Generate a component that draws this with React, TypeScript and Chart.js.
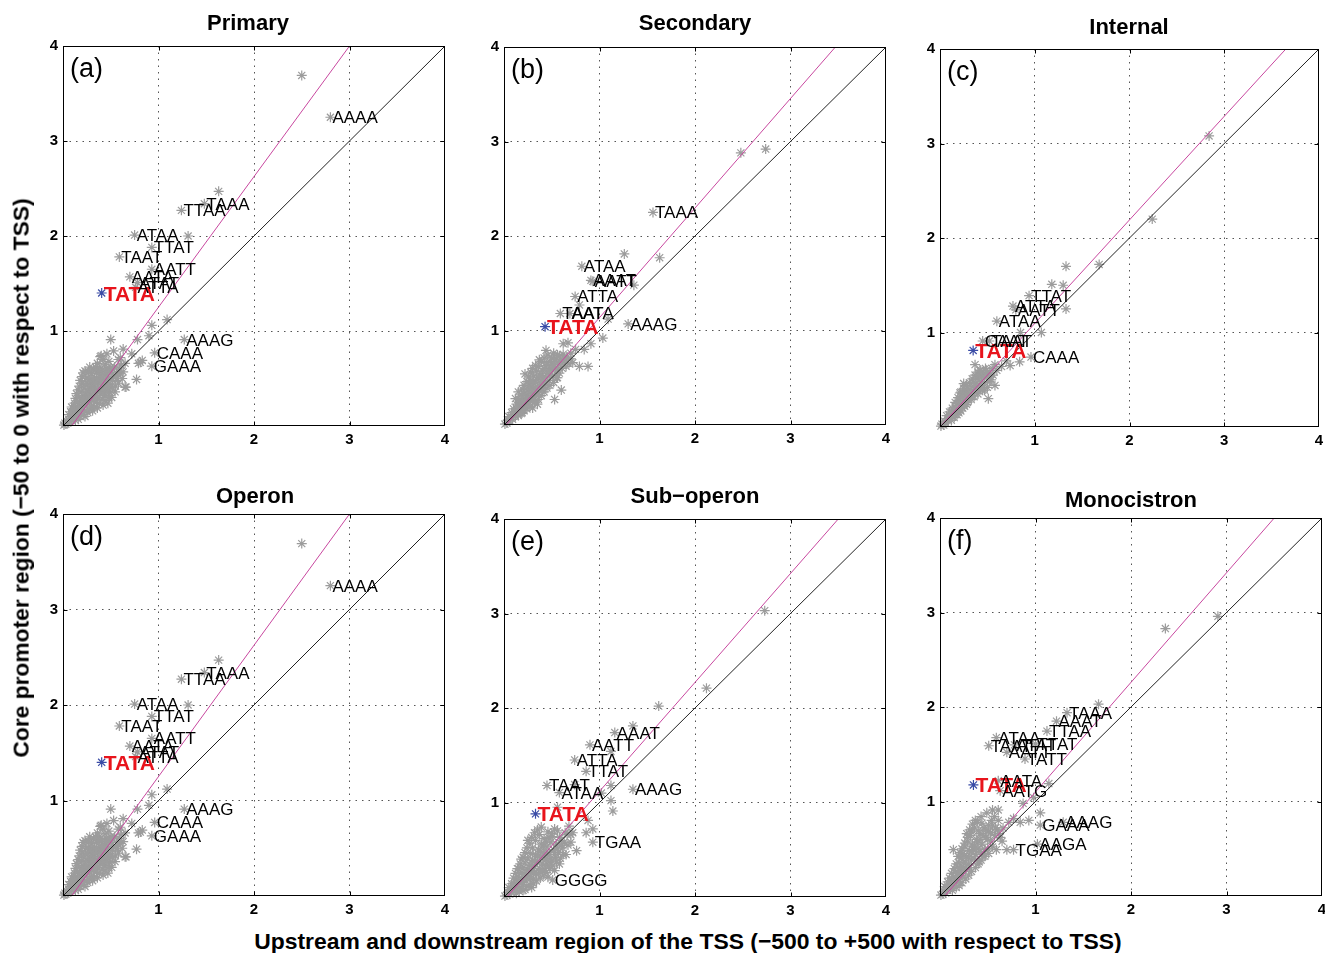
import React, { useEffect, useRef } from "react";
import { Chart, registerables } from "chart.js";
Chart.register(...registerables);

type P = [number, number];
type L = [number, number, string];

const FONT = '"Liberation Sans", Arial, Helvetica, sans-serif';

const tickValues = [0, 1, 2, 3, 4];
const tickLabels = ["", "1", "2", "3", "4"];
const diagonal: P[] = [[0, 0], [4, 4]];

// ---------- (a) Primary ----------
const primaryFit: P[] = [[0.09, 0], [3.0, 4]];
const primaryTata: P[] = [[0.405, 1.4]];
const primaryLabeled: L[] = [
  [2.5, 3.69, ""], [2.8, 3.25, "AAAA"], [1.63, 2.47, ""], [1.48, 2.34, "TAAA"],
  [1.24, 2.27, "TTAA"], [1.31, 2.0, ""], [0.75, 2.01, "ATAA"], [0.93, 1.88, "TTAT"],
  [0.59, 1.78, "TAAT"], [0.93, 1.65, "AATT"], [0.7, 1.57, "AATA"], [0.78, 1.51, "ATAT"],
  [0.76, 1.46, "ATTA"], [1.09, 1.12, ""], [0.93, 1.06, ""], [1.27, 0.91, "AAAG"],
  [0.96, 0.77, "CAAA"], [0.93, 0.63, "GAAA"],
];
const primaryCluster: P[] = [
  [0.01, 0.01], [0.02, 0.03], [0.03, 0.02], [0.04, 0.05], [0.05, 0.03], [0.06, 0.07], [0.07, 0.05],
  [0.08, 0.1], [0.09, 0.06], [0.1, 0.12], [0.11, 0.08], [0.12, 0.15], [0.12, 0.1], [0.13, 0.2],
  [0.14, 0.13], [0.15, 0.25], [0.15, 0.17], [0.16, 0.11], [0.17, 0.3], [0.17, 0.21], [0.18, 0.15],
  [0.19, 0.36], [0.19, 0.26], [0.2, 0.19], [0.2, 0.45], [0.21, 0.32], [0.22, 0.23], [0.22, 0.4],
  [0.23, 0.16], [0.24, 0.5], [0.24, 0.29], [0.25, 0.37], [0.25, 0.22], [0.26, 0.44], [0.27, 0.57],
  [0.27, 0.31], [0.28, 0.26], [0.28, 0.49], [0.29, 0.39], [0.3, 0.2], [0.3, 0.55], [0.31, 0.33],
  [0.31, 0.45], [0.32, 0.27], [0.32, 0.6], [0.33, 0.41], [0.33, 0.51], [0.34, 0.35], [0.35, 0.25],
  [0.35, 0.56], [0.36, 0.46], [0.36, 0.3], [0.37, 0.39], [0.38, 0.52], [0.38, 0.62], [0.39, 0.34],
  [0.4, 0.44], [0.4, 0.57], [0.41, 0.28], [0.41, 0.59], [0.42, 0.49], [0.43, 0.38], [0.44, 0.54],
  [0.44, 0.32], [0.45, 0.45], [0.46, 0.6], [0.47, 0.4], [0.47, 0.24], [0.48, 0.5], [0.49, 0.35],
  [0.5, 0.56], [0.5, 0.44], [0.52, 0.48], [0.53, 0.52], [0.54, 0.62], [0.545, 0.36], [0.55, 0.42],
  [0.57, 0.5], [0.58, 0.45], [0.6, 0.55], [0.63, 0.57], [0.65, 0.66], [0.66, 0.41], [0.27, 0.57],
  [0.39, 0.73], [0.53, 0.79], [0.63, 0.81], [0.5, 0.91], [0.4, 0.74], [0.72, 0.76], [0.78, 0.91],
  [0.9, 0.95], [0.81, 0.67], [0.83, 0.69], [0.79, 0.66], [0.77, 0.49], [0.65, 0.41], [0.54, 0.62],
  [0.06, 0.12], [0.08, 0.15], [0.09, 0.2], [0.11, 0.18], [0.12, 0.24], [0.13, 0.29], [0.14, 0.34],
  [0.16, 0.38], [0.17, 0.42], [0.18, 0.48], [0.2, 0.52], [0.21, 0.56], [0.23, 0.58], [0.13, 0.06],
  [0.16, 0.07], [0.18, 0.1], [0.21, 0.12], [0.23, 0.1], [0.26, 0.14], [0.28, 0.17], [0.31, 0.16],
  [0.33, 0.2], [0.36, 0.19], [0.38, 0.24], [0.42, 0.22], [0.44, 0.27], [0.48, 0.3], [0.51, 0.3],
  [0.23, 0.44], [0.26, 0.5], [0.29, 0.47], [0.3, 0.42], [0.32, 0.48], [0.34, 0.45], [0.35, 0.5],
  [0.37, 0.58], [0.39, 0.48], [0.41, 0.52], [0.43, 0.46], [0.45, 0.57], [0.46, 0.52], [0.48, 0.58],
  [0.5, 0.62], [0.52, 0.6], [0.56, 0.56], [0.59, 0.6], [0.61, 0.64], [0.62, 0.5], [0.27, 0.36],
  [0.29, 0.3], [0.31, 0.38], [0.33, 0.28], [0.35, 0.32], [0.38, 0.36], [0.4, 0.39], [0.42, 0.35],
  [0.44, 0.42], [0.46, 0.36], [0.49, 0.42], [0.52, 0.4], [0.55, 0.52], [0.24, 0.33], [0.2, 0.27],
  [0.18, 0.2], [0.16, 0.19], [0.22, 0.29], [0.26, 0.26], [0.34, 0.62], [0.28, 0.62], [0.44, 0.65],
  [0.48, 0.68], [0.36, 0.66], [0.42, 0.7], [0.46, 0.76], [0.58, 0.7], [0.6, 0.72],
];

// ---------- (b) Secondary ----------
const secondaryFit: P[] = [[0.02, 0], [3.47, 4]];
const secondaryTata: P[] = [[0.43, 1.04]];
const secondaryLabeled: L[] = [
  [2.48, 2.88, ""], [2.74, 2.92, ""], [1.56, 2.25, "TAAA"], [1.26, 1.81, ""], [1.63, 1.77, ""],
  [0.815, 1.68, "ATAA"], [0.91, 1.53, "AAAT"], [0.93, 1.52, "AATT"], [1.36, 1.48, ""],
  [0.745, 1.36, "ATTA"], [0.79, 1.27, ""], [0.59, 1.18, "TAAT"], [0.69, 1.18, "AATA"],
  [1.09, 1.12, ""], [1.3, 1.07, "AAAG"], [1.035, 0.92, ""],
];
const secondaryCluster: P[] = [
  [0.01, 0.01], [0.03, 0.02], [0.04, 0.05], [0.06, 0.04], [0.07, 0.08], [0.09, 0.06], [0.1, 0.11],
  [0.11, 0.14], [0.12, 0.09], [0.13, 0.17], [0.14, 0.12], [0.15, 0.2], [0.16, 0.15], [0.17, 0.24],
  [0.18, 0.18], [0.19, 0.13], [0.2, 0.28], [0.2, 0.22], [0.21, 0.33], [0.22, 0.19], [0.23, 0.27],
  [0.23, 0.38], [0.24, 0.31], [0.25, 0.22], [0.26, 0.42], [0.26, 0.35], [0.27, 0.28], [0.28, 0.47],
  [0.29, 0.33], [0.29, 0.4], [0.3, 0.25], [0.31, 0.52], [0.31, 0.44], [0.32, 0.36], [0.33, 0.3],
  [0.34, 0.48], [0.34, 0.57], [0.35, 0.4], [0.36, 0.62], [0.36, 0.34], [0.37, 0.52], [0.38, 0.45],
  [0.39, 0.67], [0.4, 0.38], [0.4, 0.58], [0.41, 0.5], [0.42, 0.71], [0.43, 0.43], [0.44, 0.63],
  [0.45, 0.55], [0.46, 0.74], [0.47, 0.47], [0.48, 0.67], [0.49, 0.6], [0.5, 0.71], [0.51, 0.52],
  [0.52, 0.76], [0.53, 0.64], [0.55, 0.7], [0.56, 0.58], [0.58, 0.73], [0.6, 0.66], [0.62, 0.75],
  [0.64, 0.69], [0.66, 0.72], [0.68, 0.65], [0.7, 0.7], [0.22, 0.54], [0.37, 0.69], [0.44, 0.79],
  [0.15, 0.35], [0.12, 0.28], [0.3, 0.18], [0.35, 0.22], [0.62, 0.86], [0.67, 0.87], [0.91, 0.86],
  [0.88, 0.62], [0.79, 0.62], [0.6, 0.37], [0.53, 0.27], [0.84, 0.8], [0.75, 0.8], [0.56, 0.5],
  [0.05, 0.09], [0.08, 0.13], [0.1, 0.17], [0.13, 0.22], [0.16, 0.27], [0.18, 0.32], [0.19, 0.38],
  [0.21, 0.42], [0.24, 0.46], [0.26, 0.51], [0.28, 0.56], [0.3, 0.6], [0.33, 0.63], [0.15, 0.1],
  [0.18, 0.12], [0.21, 0.15], [0.24, 0.17], [0.27, 0.2], [0.32, 0.24], [0.36, 0.27], [0.39, 0.31],
  [0.42, 0.35], [0.45, 0.39], [0.48, 0.42], [0.52, 0.45], [0.55, 0.5], [0.58, 0.55], [0.61, 0.6],
  [0.27, 0.38], [0.3, 0.45], [0.33, 0.4], [0.36, 0.5], [0.39, 0.54], [0.42, 0.6], [0.45, 0.66],
  [0.47, 0.58], [0.5, 0.64], [0.53, 0.69], [0.56, 0.74], [0.59, 0.67], [0.63, 0.71], [0.4, 0.46],
  [0.44, 0.5], [0.48, 0.53], [0.51, 0.58], [0.54, 0.61], [0.57, 0.64], [0.25, 0.29], [0.22, 0.25],
  [0.38, 0.39], [0.41, 0.42], [0.34, 0.35], [0.31, 0.3], [0.65, 0.62], [0.72, 0.66], [0.7, 0.76],
];

// ---------- (c) Internal ----------
const internalFit: P[] = [[0, 0], [3.65, 4]];
const internalTata: P[] = [[0.35, 0.81]];
const internalLabeled: L[] = [
  [2.84, 3.08, ""], [2.24, 2.2, ""], [1.68, 1.72, ""], [1.33, 1.7, ""], [1.18, 1.51, ""],
  [1.3, 1.5, ""], [0.94, 1.39, "TTAT"], [1.33, 1.25, ""], [0.77, 1.28, "ATTA"], [0.8, 1.24, "AATT"],
  [0.6, 1.12, "ATAA"], [1.07, 1.0, ""], [0.85, 1.0, ""], [0.45, 0.91, "CAAT"], [0.52, 0.91, "TAAT"],
  [0.96, 0.74, "CAAA"],
];
const internalCluster: P[] = [
  [0.01, 0.01], [0.02, 0.03], [0.04, 0.02], [0.05, 0.06], [0.06, 0.04], [0.08, 0.09], [0.09, 0.07],
  [0.1, 0.12], [0.11, 0.1], [0.12, 0.15], [0.13, 0.11], [0.14, 0.18], [0.15, 0.14], [0.16, 0.21],
  [0.17, 0.16], [0.18, 0.25], [0.19, 0.19], [0.2, 0.28], [0.2, 0.15], [0.21, 0.23], [0.22, 0.32],
  [0.23, 0.26], [0.24, 0.36], [0.24, 0.2], [0.25, 0.3], [0.26, 0.4], [0.27, 0.33], [0.28, 0.24],
  [0.28, 0.44], [0.29, 0.37], [0.3, 0.29], [0.31, 0.47], [0.32, 0.4], [0.33, 0.33], [0.34, 0.51],
  [0.35, 0.43], [0.36, 0.37], [0.37, 0.55], [0.37, 0.66], [0.38, 0.46], [0.39, 0.4], [0.4, 0.58],
  [0.41, 0.5], [0.42, 0.44], [0.43, 0.6], [0.44, 0.53], [0.45, 0.39], [0.46, 0.56], [0.47, 0.47],
  [0.48, 0.62], [0.5, 0.55], [0.5, 0.42], [0.52, 0.58], [0.54, 0.5], [0.55, 0.62], [0.6, 0.6],
  [0.58, 0.66], [0.65, 0.64], [0.74, 0.65], [0.84, 0.69], [0.47, 0.39], [0.51, 0.3], [0.58, 0.44],
  [0.42, 0.6], [0.53, 0.53], [0.25, 0.46], [0.21, 0.36], [0.7, 0.7],
  [0.07, 0.12], [0.1, 0.16], [0.13, 0.2], [0.16, 0.26], [0.19, 0.31], [0.22, 0.37], [0.25, 0.41],
  [0.12, 0.07], [0.15, 0.1], [0.18, 0.13], [0.22, 0.17], [0.26, 0.22], [0.29, 0.26], [0.33, 0.29],
  [0.36, 0.32], [0.4, 0.35], [0.43, 0.4], [0.27, 0.3], [0.3, 0.35], [0.33, 0.38], [0.35, 0.47],
  [0.38, 0.52], [0.41, 0.55], [0.44, 0.48], [0.47, 0.52], [0.49, 0.6], [0.52, 0.48], [0.56, 0.55],
];

// ---------- (d) Operon ----------
const operonFit: P[] = [[0.09, 0], [3.0, 4]];
const operonTata: P[] = [[0.405, 1.4]];
const operonLabeled: L[] = primaryLabeled;
const operonCluster: P[] = primaryCluster;

// ---------- (e) Sub-operon ----------
const subOperonFit: P[] = [[0.03, 0], [3.5, 4]];
const subOperonTata: P[] = [[0.33, 0.88]];
const subOperonLabeled: L[] = [
  [2.73, 3.03, ""], [2.12, 2.21, ""], [1.62, 2.02, ""], [1.35, 1.81, ""], [1.16, 1.74, "AAAT"],
  [0.9, 1.61, "AATT"], [1.12, 1.54, ""], [0.74, 1.45, "ATTA"], [0.86, 1.33, "TTAT"],
  [0.45, 1.18, "TAAT"], [0.74, 1.19, ""], [0.58, 1.105, "ATAA"], [1.12, 1.18, ""],
  [1.35, 1.14, "AAAG"], [1.02, 1.1, ""], [1.12, 1.02, ""], [1.14, 0.91, ""],
  [0.93, 0.58, "TGAA"], [0.51, 0.18, "GGGG"],
];
const subOperonCluster: P[] = [
  [0.01, 0.01], [0.03, 0.02], [0.04, 0.05], [0.06, 0.03], [0.07, 0.08], [0.08, 0.05], [0.1, 0.1],
  [0.11, 0.14], [0.12, 0.07], [0.13, 0.18], [0.14, 0.11], [0.15, 0.22], [0.16, 0.15], [0.17, 0.09],
  [0.18, 0.26], [0.19, 0.19], [0.2, 0.31], [0.2, 0.13], [0.21, 0.24], [0.22, 0.36], [0.23, 0.17],
  [0.24, 0.29], [0.25, 0.41], [0.25, 0.6], [0.26, 0.22], [0.27, 0.34], [0.28, 0.46], [0.29, 0.27],
  [0.3, 0.39], [0.3, 0.52], [0.31, 0.19], [0.32, 0.32], [0.33, 0.45], [0.33, 0.6], [0.34, 0.25],
  [0.35, 0.37], [0.36, 0.5], [0.37, 0.66], [0.37, 0.3], [0.38, 0.42], [0.39, 0.74], [0.39, 0.56],
  [0.4, 0.35], [0.41, 0.47], [0.42, 0.62], [0.43, 0.28], [0.44, 0.4], [0.45, 0.53], [0.46, 0.21],
  [0.46, 0.69], [0.47, 0.33], [0.48, 0.45], [0.49, 0.58], [0.5, 0.38], [0.51, 0.64], [0.52, 0.5],
  [0.53, 0.28], [0.54, 0.42], [0.55, 0.56], [0.56, 0.7], [0.57, 0.47], [0.58, 0.35], [0.6, 0.6],
  [0.61, 0.52], [0.63, 0.58], [0.65, 0.45], [0.66, 0.66], [0.7, 0.66], [0.72, 0.68], [0.76, 0.49],
  [0.68, 0.75], [0.56, 0.95], [0.86, 0.68], [0.88, 0.81], [0.93, 0.72], [0.18, 0.4], [0.14, 0.3],
  [0.29, 0.1], [0.22, 0.08],
  [0.05, 0.1], [0.08, 0.14], [0.1, 0.2], [0.12, 0.25], [0.15, 0.3], [0.17, 0.35], [0.2, 0.42],
  [0.22, 0.47], [0.24, 0.52], [0.27, 0.57], [0.29, 0.63], [0.32, 0.68], [0.35, 0.71], [0.13, 0.04],
  [0.16, 0.06], [0.2, 0.07], [0.24, 0.11], [0.27, 0.13], [0.31, 0.14], [0.34, 0.17], [0.38, 0.2],
  [0.41, 0.23], [0.44, 0.26], [0.48, 0.3], [0.51, 0.33], [0.55, 0.37], [0.59, 0.41], [0.62, 0.45],
  [0.26, 0.28], [0.29, 0.33], [0.32, 0.38], [0.35, 0.43], [0.38, 0.48], [0.41, 0.53], [0.44, 0.58],
  [0.47, 0.63], [0.5, 0.67], [0.53, 0.72], [0.58, 0.63], [0.64, 0.68], [0.67, 0.55], [0.7, 0.58],
  [0.36, 0.25], [0.4, 0.28], [0.43, 0.33], [0.46, 0.38], [0.49, 0.41], [0.53, 0.45], [0.56, 0.51],
  [0.6, 0.55], [0.23, 0.22], [0.28, 0.2], [0.31, 0.25], [0.19, 0.16], [0.42, 0.44], [0.45, 0.47],
];

// ---------- (f) Monocistron ----------
const monoFit: P[] = [[0.05, 0], [3.5, 4]];
const monoTata: P[] = [[0.35, 1.175]];
const monoLabeled: L[] = [
  [2.36, 2.83, ""], [2.91, 2.96, ""], [1.66, 2.03, ""], [1.33, 1.94, "TAAA"], [1.22, 1.85, "AAAT"],
  [1.12, 1.745, "TTAA"], [0.59, 1.675, "ATAA"], [0.51, 1.59, "TAAT"], [0.78, 1.6, "ATAT"],
  [1.0, 1.61, "TTAT"], [0.7, 1.52, "AATT"], [0.89, 1.45, "TATT"], [0.61, 1.22, "AATA"],
  [0.63, 1.115, "AATG"], [1.14, 1.19, ""], [0.98, 1.04, ""], [0.87, 0.98, ""], [1.05, 0.88, ""],
  [1.05, 0.75, "GAAA"], [1.29, 0.78, "AAAG"], [1.02, 0.55, "AAGA"], [0.77, 0.49, "TGAA"],
];
const monoCluster: P[] = [
  [0.01, 0.01], [0.03, 0.02], [0.04, 0.05], [0.06, 0.03], [0.07, 0.09], [0.08, 0.06], [0.1, 0.12],
  [0.11, 0.08], [0.12, 0.16], [0.13, 0.11], [0.14, 0.2], [0.14, 0.49], [0.15, 0.14], [0.16, 0.25],
  [0.17, 0.18], [0.18, 0.3], [0.19, 0.22], [0.2, 0.35], [0.2, 0.15], [0.21, 0.27], [0.22, 0.4],
  [0.23, 0.31], [0.24, 0.45], [0.24, 0.2], [0.25, 0.36], [0.26, 0.52], [0.27, 0.28], [0.28, 0.42],
  [0.29, 0.58], [0.3, 0.33], [0.31, 0.48], [0.32, 0.64], [0.33, 0.68], [0.33, 0.38], [0.34, 0.54],
  [0.35, 0.49], [0.36, 0.72], [0.37, 0.44], [0.38, 0.6], [0.39, 0.78], [0.4, 0.5], [0.41, 0.36],
  [0.42, 0.66], [0.43, 0.84], [0.44, 0.55], [0.45, 0.42], [0.46, 0.72], [0.47, 0.49], [0.48, 0.62],
  [0.49, 0.88], [0.5, 0.5], [0.51, 0.68], [0.53, 0.58], [0.55, 0.91], [0.55, 0.75], [0.57, 0.64],
  [0.59, 0.49], [0.6, 0.7], [0.61, 0.8], [0.61, 0.91], [0.63, 0.62], [0.66, 0.72], [0.7, 0.49],
  [0.72, 0.78], [0.84, 0.78], [0.93, 0.8], [0.77, 0.82], [0.24, 0.45], [0.35, 0.49], [0.47, 0.49],
  [0.29, 0.62], [0.19, 0.42],
  [0.05, 0.1], [0.08, 0.15], [0.1, 0.19], [0.12, 0.24], [0.15, 0.29], [0.17, 0.34], [0.21, 0.46],
  [0.23, 0.5], [0.26, 0.56], [0.28, 0.66], [0.31, 0.7], [0.34, 0.76], [0.37, 0.8], [0.13, 0.06],
  [0.17, 0.09], [0.2, 0.11], [0.23, 0.14], [0.27, 0.18], [0.3, 0.22], [0.33, 0.26], [0.37, 0.3],
  [0.4, 0.34], [0.43, 0.38], [0.47, 0.42], [0.51, 0.45], [0.55, 0.52], [0.27, 0.36], [0.3, 0.41],
  [0.33, 0.47], [0.36, 0.53], [0.39, 0.57], [0.42, 0.6], [0.45, 0.64], [0.48, 0.7], [0.51, 0.75],
  [0.54, 0.8], [0.57, 0.84], [0.4, 0.69], [0.44, 0.77], [0.5, 0.6], [0.53, 0.67], [0.58, 0.72],
  [0.62, 0.66], [0.22, 0.24], [0.25, 0.29], [0.31, 0.3], [0.36, 0.4], [0.42, 0.47], [0.65, 0.58],
];

// ---------- layout (pixel geometry, not data) ----------
const PAD_L = 40, PAD_T = 12, PAD_R = 12, PAD_B = 30;

type Spec = {
  letter: string; title: string; titleAt: [number, number];
  area: { l: number; t: number; r: number; b: number };
  fit: P[]; tata: P[]; labeled: L[]; cluster: P[];
};

const panels: Spec[] = [
  { letter: "(a)", title: "Primary", titleAt: [248, 23], area: { l: 63, t: 44, r: 445, b: 426 },
    fit: primaryFit, tata: primaryTata, labeled: primaryLabeled, cluster: primaryCluster },
  { letter: "(b)", title: "Secondary", titleAt: [695, 23], area: { l: 504, t: 45, r: 886, b: 425 },
    fit: secondaryFit, tata: secondaryTata, labeled: secondaryLabeled, cluster: secondaryCluster },
  { letter: "(c)", title: "Internal", titleAt: [1129, 27], area: { l: 940, t: 47, r: 1319, b: 427 },
    fit: internalFit, tata: internalTata, labeled: internalLabeled, cluster: internalCluster },
  { letter: "(d)", title: "Operon", titleAt: [255, 496], area: { l: 63, t: 512, r: 445, b: 896 },
    fit: operonFit, tata: operonTata, labeled: operonLabeled, cluster: operonCluster },
  { letter: "(e)", title: "Sub\u2212operon", titleAt: [695, 496], area: { l: 504, t: 517, r: 886, b: 897 },
    fit: subOperonFit, tata: subOperonTata, labeled: subOperonLabeled, cluster: subOperonCluster },
  { letter: "(f)", title: "Monocistron", titleAt: [1131, 500], area: { l: 940, t: 516, r: 1322, b: 896 },
    fit: monoFit, tata: monoTata, labeled: monoLabeled, cluster: monoCluster },
];

const GRAY = "#9c9c9c";
const BLUE = "#3a4ca6";
const MAGENTA = "#c8479f";

const toXY = (arr: P[] | L[]) => arr.map((p) => ({ x: p[0], y: p[1] }));

const textPlugin = {
  id: "pointTexts",
  afterDatasetsDraw(chart: any) {
    const ctx = chart.ctx;
    chart.data.datasets.forEach((ds: any, i: number) => {
      const texts: string[] | undefined = ds.pointTexts;
      if (!texts) return;
      const meta = chart.getDatasetMeta(i);
      ctx.save();
      ctx.font = ds.textFont;
      ctx.fillStyle = ds.textColor;
      ctx.textBaseline = "alphabetic";
      ctx.textAlign = "left";
      meta.data.forEach((el: any, j: number) => {
        const t = texts[j];
        if (!t) return;
        ctx.fillText(t, el.x + ds.textDx, el.y + ds.textDy);
      });
      ctx.restore();
    });
  },
};

const framePlugin = {
  id: "frame",
  afterDraw(chart: any) {
    const { ctx, chartArea: a, scales } = chart;
    const letter = chart.options.plugins.frame.letter;
    ctx.save();
    const l = Math.round(a.left) + 0.5, t = Math.round(a.top) + 0.5;
    const r = Math.round(a.right) - 0.5, b = Math.round(a.bottom) - 0.5;
    ctx.strokeStyle = "#000";
    ctx.lineWidth = 1;
    ctx.strokeRect(l, t, r - l, b - t);
    ctx.beginPath();
    [1, 2, 3].forEach((v) => {
      const px = Math.round(scales.x.getPixelForValue(v)) + 0.5;
      const py = Math.round(scales.y.getPixelForValue(v)) + 0.5;
      ctx.moveTo(px, b); ctx.lineTo(px, b - 4);
      ctx.moveTo(px, t); ctx.lineTo(px, t + 4);
      ctx.moveTo(l, py); ctx.lineTo(l + 4, py);
      ctx.moveTo(r, py); ctx.lineTo(r - 4, py);
    });
    ctx.stroke();
    ctx.fillStyle = "#000";
    ctx.font = `27px ${FONT}`;
    ctx.textBaseline = "middle";
    ctx.textAlign = "left";
    ctx.fillText(letter, a.left + 7, a.top + 24);
    ctx.restore();
  },
};

function makeConfig(s: Spec): any {
  const tickCb = (v: number) => {
    const i = tickValues.indexOf(v);
    return i >= 0 ? tickLabels[i] : "";
  };
  const gridColor = (c: any) =>
    c.tick && (c.tick.value === 0 || c.tick.value === 4) ? "rgba(0,0,0,0)" : "#555";
  const tickFont = { family: FONT, size: 15, weight: "bold" };
  const star = { pointStyle: "star", pointRadius: 5, pointBorderWidth: 1.2, clip: false };
  return {
    type: "scatter",
    data: {
      datasets: [
        { data: toXY(diagonal), showLine: true, borderColor: "#222", borderWidth: 1, pointRadius: 0 },
        { data: toXY(s.fit), showLine: true, borderColor: MAGENTA, borderWidth: 1, pointRadius: 0 },
        {
          ...star, data: toXY(s.tata), borderColor: BLUE, backgroundColor: BLUE,
          pointTexts: ["TATA"], textFont: `bold 21px ${FONT}`, textColor: "#e8141c", textDx: 2, textDy: 7.5,
        },
        {
          ...star, data: toXY(s.labeled), borderColor: GRAY, backgroundColor: GRAY,
          pointTexts: s.labeled.map((p) => p[2]), textFont: `17px ${FONT}`, textColor: "#000", textDx: 2, textDy: 6,
        },
        { ...star, data: toXY(s.cluster), borderColor: GRAY, backgroundColor: GRAY },
      ],
    },
    options: {
      animation: false,
      responsive: false,
      devicePixelRatio: 1,
      events: [],
      layout: { padding: { top: PAD_T, right: PAD_R, left: 0, bottom: 0 } },
      plugins: { legend: { display: false }, tooltip: { enabled: false }, frame: { letter: s.letter } },
      scales: {
        x: {
          type: "linear", min: 0, max: 4,
          afterFit: (sc: any) => { sc.height = PAD_B; },
          ticks: { stepSize: 1, callback: tickCb, font: tickFont, color: "#000", padding: 5, maxRotation: 0, autoSkip: false },
          grid: { color: gridColor, drawTicks: false, lineWidth: 1 },
          border: { display: false, dash: [1.5, 5] },
        },
        y: {
          type: "linear", min: 0, max: 4,
          afterFit: (sc: any) => { sc.width = PAD_L; },
          ticks: { stepSize: 1, callback: tickCb, font: tickFont, color: "#000", padding: 5, autoSkip: false },
          grid: { color: gridColor, drawTicks: false, lineWidth: 1 },
          border: { display: false, dash: [1.5, 5] },
        },
      },
    },
    plugins: [textPlugin, framePlugin],
  };
}

function Panel({ spec }: { spec: Spec }) {
  const ref = useRef<HTMLCanvasElement>(null);
  const { l, t, r, b } = spec.area;
  const w = r - l + PAD_L + PAD_R;
  const h = b - t + PAD_T + PAD_B;
  useEffect(() => {
    if (!ref.current) return;
    const chart = new Chart(ref.current, makeConfig(spec));
    return () => chart.destroy();
  }, []);
  return (
    <canvas
      ref={ref}
      width={w}
      height={h}
      style={{ position: "absolute", left: l - PAD_L, top: t - PAD_T, width: w, height: h }}
    />
  );
}

const titleStyle = (cx: number, cy: number): React.CSSProperties => ({
  position: "absolute", left: cx, top: cy, transform: "translate(-50%, -50%)",
  fontFamily: FONT, fontWeight: "bold", fontSize: 22, lineHeight: 1, whiteSpace: "nowrap", color: "#000",
});

export default function App() {
  return (
    <div style={{ position: "absolute", left: 0, top: 0, width: 1325, height: 953, overflow: "hidden", background: "#fff" }}>
      {panels.map((p) => (
        <Panel key={p.letter} spec={p} />
      ))}
      {panels.map((p) => (
        <div key={p.title} style={titleStyle(p.titleAt[0], p.titleAt[1])}>{p.title}</div>
      ))}
      <div style={{ ...titleStyle(21, 478), transform: "translate(-50%, -50%) rotate(-90deg)", fontSize: 22.8 }}>
        Core promoter region (−50 to 0 with respect to TSS)
      </div>
      <div style={{ ...titleStyle(688, 941), fontSize: 22.9 }}>
        Upstream and downstream region of the TSS (−500 to +500 with respect to TSS)
      </div>
    </div>
  );
}
